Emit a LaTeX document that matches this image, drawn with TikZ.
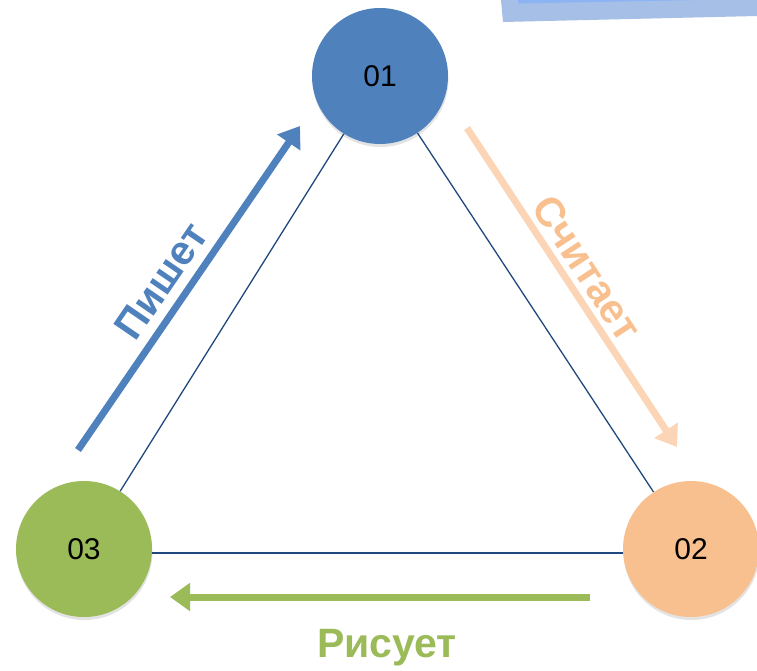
\documentclass[tikz,border=0pt]{standalone}
\usepackage{fontspec}
\setmainfont{Liberation Sans}
\usetikzlibrary{arrows.meta,shadows}
\definecolor{cblue}{HTML}{4F81BD}
\definecolor{corange}{HTML}{F9C08F}
\definecolor{corangelight}{HTML}{FBD5B5}
\definecolor{cgreen}{HTML}{9BBB59}
\definecolor{cline}{HTML}{1F497D}
\definecolor{boxdark}{HTML}{A6BFE6}
\definecolor{boxlight}{HTML}{8DB4F2}
\tikzset{
  circ/.style={circle, minimum size=136pt, inner sep=0pt, font=\fontsize{30}{30}\selectfont,
    drop shadow={shadow xshift=0.5pt, shadow yshift=-3pt, opacity=0.22}},
  link/.style={draw=cline, line width=1.3pt},
  bigarrow/.style={line width=7pt, -{Triangle[length=20pt,width=27pt]}},
  lbl/.style={font=\bfseries\fontsize{41}{41}\selectfont, inner sep=0pt}
}
\begin{document}
\begin{tikzpicture}[x=1pt,y=-1pt]
\useasboundingbox (0,0) rectangle (757,670);
% top-right box
\fill[boxdark] (501,0) -- (503,22) -- (757,16) -- (757,0) -- cycle;
\fill[boxlight] (518,0) -- (518,3.5) -- (700,0) -- cycle;
% circles
\node[circ, fill=cblue] (n1) at (380,76) {01};
\node[circ, fill=corange] (n2) at (691,549) {02};
\node[circ, fill=cgreen] (n3) at (84,549) {03};
% links
\draw[link] (n1) -- (n3);
\draw[link] (n1) -- (n2);
\draw[link] ([yshift=-4pt]n3.east) -- ([yshift=-4pt]n2.west);
% arrows
\coordinate (ba) at (78,450);
\coordinate (bb) at (300,126);
\coordinate (oa) at (467,128);
\coordinate (ob) at (677,447);
\coordinate (ga) at (590,597);
\coordinate (gb) at (170,597);
\draw[bigarrow, cblue] (ba) -- (bb);
\draw[bigarrow, corangelight] (oa) -- (ob);
\draw[bigarrow, cgreen] (ga) -- (gb);
% labels
\node[lbl, text=cblue, rotate=55.6] (lp) at (161,281) {Пишет};
\node[lbl, text=corange, rotate=-56.6] (ls) at (587,268) {Считает};
\node[lbl, text=cgreen] (lr) at (387,648) {Рисует};
\end{tikzpicture}
\end{document}
